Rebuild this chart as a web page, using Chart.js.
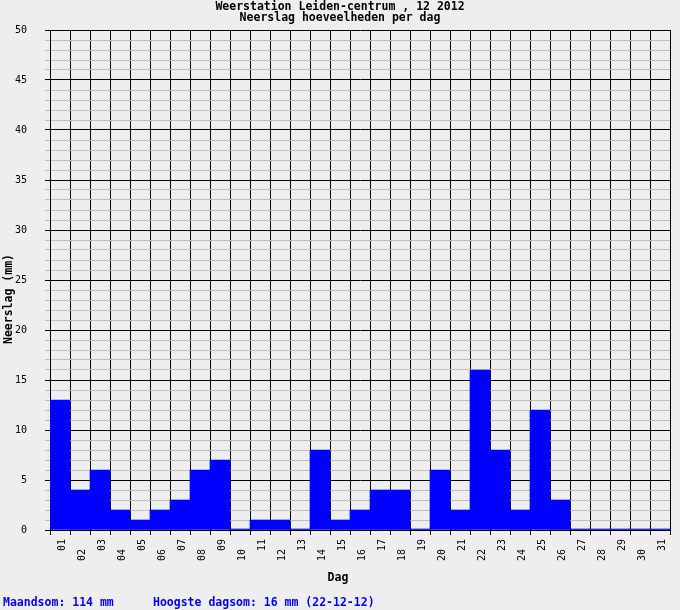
<!DOCTYPE html>
<html lang="nl">
<head>
<meta charset="utf-8">
<title>Neerslag hoeveelheden per dag</title>
<script src="https://cdn.jsdelivr.net/npm/chart.js@4.4.1/dist/chart.umd.min.js"></script>
<style>
  html, body { margin: 0; padding: 0; background: #eeeeee; }
  #grafiek { display: block; }
</style>
</head>
<body>
<canvas id="grafiek" width="680" height="610"></canvas>
<script>
// Gegevens december 2012
const dagen = [
  "01", "02", "03", "04", "05", "06", "07", "08", "09", "10",
  "11", "12", "13", "14", "15", "16", "17", "18", "19", "20",
  "21", "22", "23", "24", "25", "26", "27", "28", "29", "30", "31",
];
const neerslag = [
  13, 4, 6, 2, 1, 2, 3, 6, 7, 0,
  1, 1, 0, 8, 1, 2, 4, 4, 0, 6,
  2, 16, 8, 2, 12, 3, 0, 0, 0, 0, 0,
];
const yLabels = ["0", "5", "10", "15", "20", "25", "30", "35", "40", "45", "50"];

const titelRegels = ["Weerstation Leiden-centrum , 12 2012", "Neerslag hoeveelheden per dag"];
const yTitel = "Neerslag (mm)";
const xTitel = "Dag";
const maandsomTekst = "Maandsom: 114 mm";
const hoogsteTekst = "Hoogste dagsom: 16 mm (22-12-12)";

const monoFont = "'DejaVu Sans Mono', monospace";

// Teksten die Chart.js niet zelf op de juiste plek zet
const tekstPlugin = {
  id: "tekstLagen",
  afterDraw(chart) {
    const ctx = chart.ctx;
    const xAs = chart.scales.x;
    ctx.save();

    // dag labels, om en om verspringend
    ctx.font = "10px " + monoFont;
    ctx.fillStyle = "#000";
    ctx.textAlign = "right";
    ctx.textBaseline = "alphabetic";
    dagen.forEach((dag, i) => {
      const x = xAs.getPixelForTick(i);
      const y = i % 2 === 0 ? 539 : 549;
      ctx.save();
      ctx.translate(x + 5, y);
      ctx.rotate(-Math.PI / 2);
      ctx.fillText(dag, 0, 0);
      ctx.restore();
    });

    // titel
    ctx.font = "bold 11.5px " + monoFont;
    ctx.textAlign = "center";
    ctx.fillText(titelRegels[0], 340, 10);
    ctx.fillText(titelRegels[1], 340, 21);

    // as titels
    ctx.fillText(xTitel, 338, 581);
    ctx.save();
    ctx.translate(11.5, 299);
    ctx.rotate(-Math.PI / 2);
    ctx.fillText(yTitel, 0, 0);
    ctx.restore();

    // onderschrift
    ctx.fillStyle = "#0000ff";
    ctx.textAlign = "left";
    ctx.fillText(maandsomTekst, 3, 606);
    ctx.fillText(hoogsteTekst, 153, 606);

    ctx.restore();
  },
};

new Chart(document.getElementById("grafiek"), {
  type: "bar",
  data: {
    labels: dagen,
    datasets: [
      {
        label: "Neerslag",
        data: neerslag,
        backgroundColor: "#0000ff",
        borderWidth: 0,
        barPercentage: 1,
        categoryPercentage: 1,
        minBarLength: 1,
      },
    ],
  },
  options: {
    responsive: false,
    animation: false,
    devicePixelRatio: 1,
    layout: { padding: { top: 30, right: 10, left: 0, bottom: 0 } },
    plugins: {
      legend: { display: false },
      tooltip: { enabled: false },
      title: { display: false },
    },
    scales: {
      x: {
        grid: { color: "#000", tickLength: 5, offset: true },
        border: { color: "#000" },
        ticks: { display: false },
        afterFit: (s) => {
          s.height = 80;
        },
      },
      y: {
        min: 0,
        max: 50,
        ticks: {
          stepSize: 1,
          autoSkip: false,
          padding: 18,
          color: "#000",
          font: { family: monoFont, size: 10 },
          callback: (v) => (yLabels.includes(String(v)) ? String(v) : ""),
        },
        grid: {
          color: (c) => (yLabels.includes(String(c.tick.value)) ? "#000" : "#bebebe"),
          tickLength: 5,
        },
        border: { color: "#000" },
        afterFit: (s) => {
          s.width = 50;
        },
      },
    },
  },
  plugins: [tekstPlugin],
});
</script>
</body>
</html>
